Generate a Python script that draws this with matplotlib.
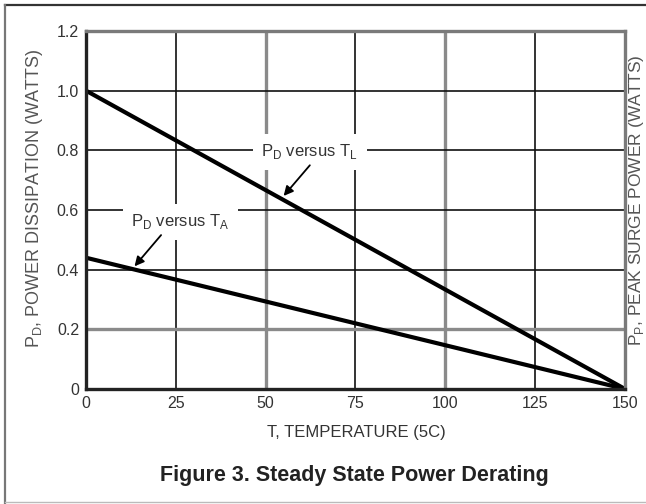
import matplotlib.pyplot as plt
from matplotlib.lines import Line2D

# data
temp = [0, 150]
pd_tl = [1.0, 0.0]      # P_D versus T_L
pd_ta = [0.44, 0.0]     # P_D versus T_A

x_ticks = [0, 25, 50, 75, 100, 125, 150]
y_ticks = [0, 0.2, 0.4, 0.6, 0.8, 1.0, 1.2]
y_tick_labels = ['0', '0.2', '0.4', '0.6', '0.8', '1.0', '1.2']

plt.rcParams['font.family'] = ['Liberation Sans', 'DejaVu Sans']

fig = plt.figure(figsize=(6.46, 5.04), dpi=100)
ax = fig.add_axes([0.1331, 0.2282, 0.8344, 0.7103])

# grid: scanned look, some lines grey and thicker
gray_v = [50, 100]
gray_h = [0.2]
for xv in x_ticks[1:-1]:
    if xv in gray_v:
        ax.axvline(xv, color='#8a8a8a', lw=2.4, zorder=1)
    else:
        ax.axvline(xv, color='#111111', lw=1.2, zorder=1)
for yv in y_ticks[1:-1]:
    if yv in gray_h:
        ax.axhline(yv, color='#8a8a8a', lw=2.4, zorder=1)
    else:
        ax.axhline(yv, color='#111111', lw=1.2, zorder=1)

ax.plot(temp, pd_tl, color='black', lw=3.0, zorder=3, solid_capstyle='butt')
ax.plot(temp, pd_ta, color='black', lw=3.0, zorder=3, solid_capstyle='butt')

ax.set_xlim(0, 150)
ax.set_ylim(0, 1.2)
ax.set_xticks(x_ticks)
ax.set_yticks(y_ticks)
ax.set_yticklabels(y_tick_labels)
ax.tick_params(length=0, labelsize=11.5, colors='#333333', pad=5)
for side, s in ax.spines.items():
    s.set_linewidth(2.4)
    s.set_zorder(4)
    s.set_color('#222222' if side in ('left', 'bottom') else '#7a7a7a')

# curve labels with arrows
bbox = dict(boxstyle='square,pad=0.5', fc='white', ec='none')
ax.text(62.3, 0.795, r'P$_\mathregular{D}$ versus T$_\mathregular{L}$', ha='center', va='center',
        fontsize=12, color='#333333', bbox=bbox, zorder=2)
ax.annotate('', xy=(54.5, 0.64), xytext=(62.8, 0.757),
            arrowprops=dict(arrowstyle='-|>', color='black', lw=1.3, mutation_scale=14), zorder=5)
ax.text(26.2, 0.56, r'P$_\mathregular{D}$ versus T$_\mathregular{A}$', ha='center', va='center',
        fontsize=12, color='#333333', bbox=bbox, zorder=2)
ax.annotate('', xy=(13.0, 0.404), xytext=(21.4, 0.523),
            arrowprops=dict(arrowstyle='-|>', color='black', lw=1.3, mutation_scale=14), zorder=5)

# axis labels
fig.text(0.054, 0.607, r'P$_\mathregular{D}$, POWER DISSIPATION (WATTS)', rotation=90,
         ha='center', va='center', fontsize=13, color='#555555')
fig.text(0.551, 0.141, 'T, TEMPERATURE (5C)', ha='center', va='center',
         fontsize=12, color='#333333')
# right-hand axis label at the scan edge
fig.text(0.985, 0.603, r'P$_\mathregular{P}$, PEAK SURGE POWER (WATTS)', rotation=90,
         ha='center', va='center', fontsize=12.5, color='#555555')

# caption
fig.text(0.548, 0.0575, 'Figure 3. Steady State Power Derating', ha='center', va='center',
         fontsize=15.5, fontweight='bold', color='#222222')

# page frame from the scan
fig.add_artist(Line2D([0.008, 1.0], [0.99, 0.99], transform=fig.transFigure,
                      color='#333333', lw=1.6))
fig.add_artist(Line2D([0.008, 0.008], [0.0, 0.99], transform=fig.transFigure,
                      color='#777777', lw=1.6))
fig.add_artist(Line2D([0.008, 1.0], [0.004, 0.004], transform=fig.transFigure,
                      color='#bbbbbb', lw=1.0))

fig.savefig('out.png', dpi=100)
